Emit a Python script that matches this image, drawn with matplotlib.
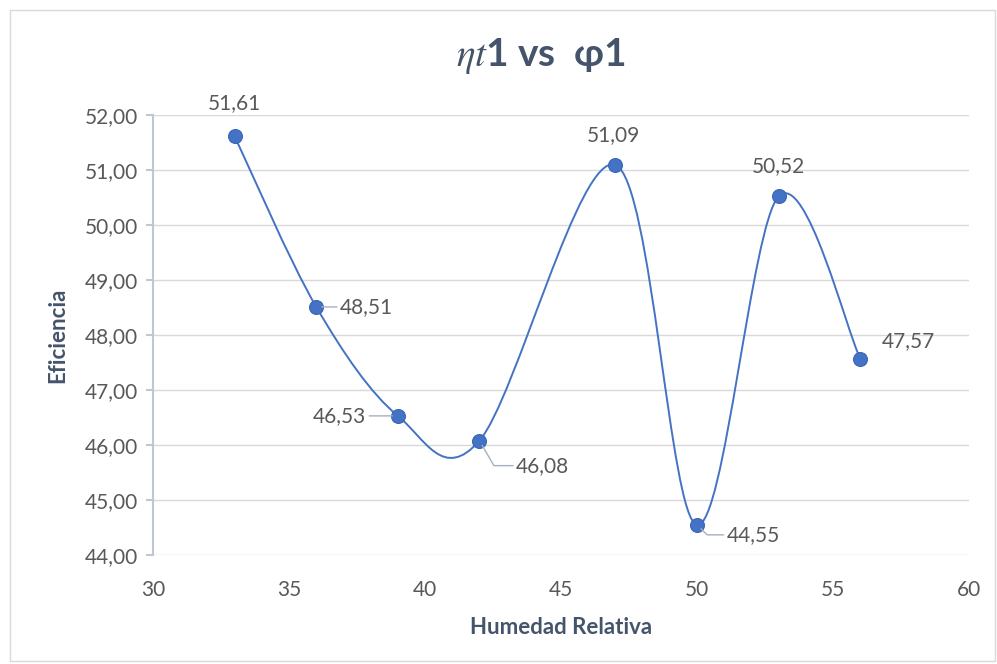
import numpy as np
import matplotlib.pyplot as plt
from matplotlib.path import Path
from matplotlib.patches import PathPatch, Rectangle

# humedad relativa vs eficiencia
humedad = [33, 36, 39, 42, 47, 50, 53, 56]
eficiencia = [51.61, 48.51, 46.53, 46.08, 51.09, 44.55, 50.52, 47.57]
etiquetas = ['51,61', '48,51', '46,53', '46,08', '51,09', '44,55', '50,52', '47,57']

plt.rcParams['font.family'] = ['Lato', 'DejaVu Sans']
plt.rcParams['mathtext.fontset'] = 'stix'

azul = '#4472C4'
texto = '#44546A'
gris = '#595959'

fig = plt.figure(figsize=(9.97, 6.64), dpi=100)
fig.patches.append(Rectangle((0.01, 0.005), 0.988, 0.98, transform=fig.transFigure,
                             fill=False, edgecolor='#D9D9D9', lw=1))
ax = fig.add_axes([0.1535, 0.164, 0.8185, 0.663])

# smoothed line like excel (catmull-rom bezier)
pts = np.column_stack([humedad, eficiencia])
verts = [pts[0]]
codes = [Path.MOVETO]
n = len(pts)
for i in range(n - 1):
    p0 = pts[i - 1] if i > 0 else pts[i]
    p1 = pts[i]
    p2 = pts[i + 1]
    p3 = pts[i + 2] if i + 2 < n else pts[i + 1]
    c1 = p1 + (p2 - p0) / 6
    c2 = p2 - (p3 - p1) / 6
    verts += [c1, c2, p2]
    codes += [Path.CURVE4] * 3
ax.add_patch(PathPatch(Path(verts, codes), facecolor='none', edgecolor=azul, lw=1.4, zorder=3))
ax.plot(humedad, eficiencia, 'o', color=azul, ms=10, mec='#3A66B5', mew=0.8, zorder=4)

ax.set_xlim(30, 60)
ax.set_ylim(44, 52)
ax.set_xticks(range(30, 61, 5))
ax.set_yticks(np.arange(44, 52.1, 1))
ax.set_yticklabels(['{:.2f}'.format(v).replace('.', ',') for v in np.arange(44, 52.1, 1)])
ax.grid(axis='y', color='#D9D9D9', lw=1)
ax.set_axisbelow(True)
for s in ['top', 'right', 'bottom']:
    ax.spines[s].set_visible(False)
ax.spines['left'].set_color('#BFC7D5')
ax.spines['left'].set_linewidth(1.5)
ax.tick_params(axis='y', length=5, color='#BFC7D5', width=1.5, labelsize=15, labelcolor=gris, pad=6)
ax.tick_params(axis='x', length=0, labelsize=15, labelcolor=gris, pad=18)

ax.set_xlabel('Humedad Relativa', fontsize=16, fontweight='bold', color=texto, labelpad=12)
ax.set_ylabel('Eficiencia', fontsize=16, fontweight='bold', color=texto, labelpad=12)
fig.text(0.543, 0.915, r'$\eta t$' + '1 vs  φ1', fontsize=28, fontweight='bold',
         color=texto, ha='center', va='center')

# data labels: offsets in pixels, leader line style
offsets = [(0, 33, None), (50, 0, 'arc3'), (-58, 0, 'arc3'),
           (63, -25, 'angle,angleA=0,angleB=120'),
           (-2, 30, None), (56, -10, 'angle,angleA=0,angleB=135'),
           (0, 30, None), (48, 18, None)]
for x, y, lab, (dx, dy, con) in zip(humedad, eficiencia, etiquetas, offsets):
    ap = None
    if con:
        ap = dict(arrowstyle='-', color='#A6B0BF', lw=1, shrinkA=0, shrinkB=4,
                  connectionstyle=con)
    ax.annotate(lab, (x, y), xytext=(dx, dy), textcoords='offset pixels',
                ha='center', va='center', fontsize=15, color=gris, arrowprops=ap, zorder=5)

fig.savefig('out.png', dpi=100)
